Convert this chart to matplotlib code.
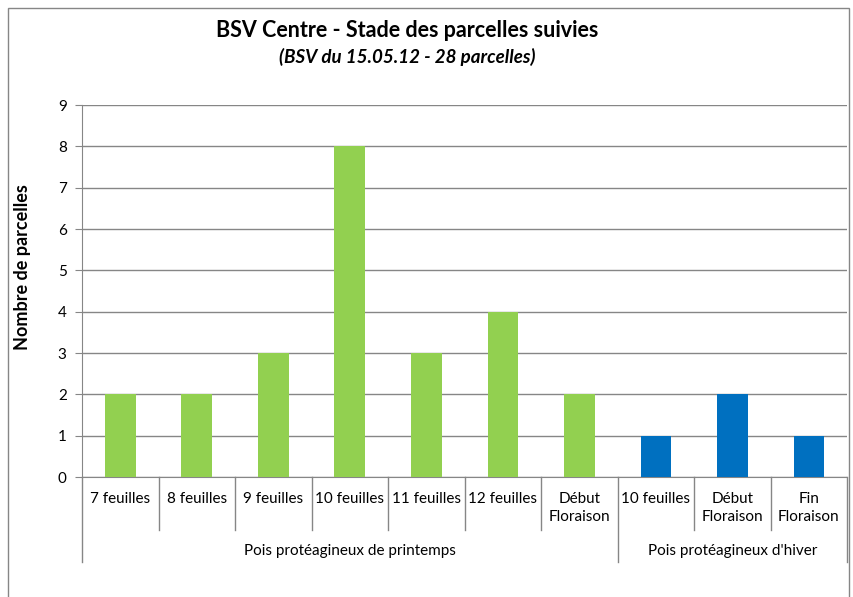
import matplotlib.pyplot as plt
import matplotlib.transforms as mtransforms
from matplotlib.patches import Rectangle

plt.rcParams['font.family'] = ['Lato', 'DejaVu Sans']

# données
stades = ['7 feuilles', '8 feuilles', '9 feuilles', '10 feuilles', '11 feuilles',
          '12 feuilles', 'Début\nFloraison', '10 feuilles', 'Début\nFloraison', 'Fin\nFloraison']
nb_parcelles = [2, 2, 3, 8, 3, 4, 2, 1, 2, 1]
groupes = ['Pois protéagineux de printemps', "Pois protéagineux d'hiver"]
taille_groupes = [7, 3]
couleurs_groupes = ['#92D050', '#0070C0']

gris = '#868686'

fig = plt.figure(figsize=(8.54, 5.97), dpi=100)
ax = fig.add_axes([0.096, 0.201, 0.896, 0.623])

couleurs = []
for c, n in zip(couleurs_groupes, taille_groupes):
    couleurs += [c] * n
x = list(range(len(stades)))
ax.bar(x, nb_parcelles, width=0.4, color=couleurs, zorder=3)

ax.set_xlim(-0.5, len(stades) - 0.5)
ax.set_ylim(0, 9)
ax.set_yticks(range(10))
ax.yaxis.grid(True, color=gris, linewidth=1, zorder=0)
ax.tick_params(axis='y', length=5, color=gris, labelsize=11, pad=6)
ax.tick_params(axis='x', length=0, labelbottom=False)
for s in ['top', 'right']:
    ax.spines[s].set_visible(False)
for s in ['left', 'bottom']:
    ax.spines[s].set_color(gris)

trans = mtransforms.blended_transform_factory(ax.transData, ax.transAxes)

# séparateurs des catégories
bornes = [0]
for n in taille_groupes:
    bornes.append(bornes[-1] + n)
for i in range(1, len(stades)):
    if i in bornes:
        continue
    ax.plot([i - 0.5, i - 0.5], [0, -0.143], transform=trans, color=gris,
            linewidth=1, clip_on=False)
for b in bornes:
    ax.plot([b - 0.5, b - 0.5], [0, -0.228], transform=trans, color=gris,
            linewidth=1, clip_on=False)

for xi, lab in zip(x, stades):
    ax.text(xi, -0.040, lab, transform=trans, ha='center', va='top',
            fontsize=11, linespacing=1.35)

for g, (a, b) in zip(groupes, zip(bornes[:-1], bornes[1:])):
    ax.text((a + b - 1) / 2, -0.199, g, transform=trans, ha='center', va='center',
            fontsize=11)

ax.set_ylabel('Nombre de parcelles', fontsize=13, fontweight='bold')
ax.yaxis.set_label_coords(-0.067, 0.565)

fig.text(0.477, 0.949, 'BSV Centre - Stade des parcelles suivies', ha='center',
         va='center', fontsize=15.5, fontweight='bold')
fig.text(0.477, 0.904, '(BSV du 15.05.12 - 28 parcelles)', ha='center',
         va='center', fontsize=13.5, fontweight='bold', style='italic')

# cadre du graphique
fig.patches.append(Rectangle((8 / 854, -0.1), 841 / 854, 1.1 - 8 / 597,
                             transform=fig.transFigure, fill=False,
                             edgecolor=gris, linewidth=1))

fig.savefig('out.png', dpi=100)
